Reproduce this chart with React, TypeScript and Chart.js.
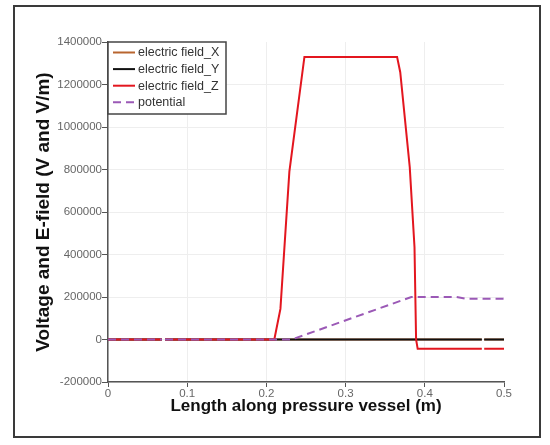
import { useEffect, useRef } from "react";
import { Chart, registerables } from "chart.js";

Chart.register(...registerables);

// ---- data ----
const seriesNames = ["electric field_X", "electric field_Y", "electric field_Z", "potential"];

// electric field X and Y: zero along the whole vessel (small gaps in the data near 0.07 and 0.473)
const fieldXPos = [0, 0.068, 0.07, 0.072, 0.21, 0.3, 0.4, 0.472, 0.473, 0.475, 0.5];
const fieldXVal = [0, 0, null, 0, 0, 0, 0, 0, null, 0, 0];
const fieldYPos = [0, 0.068, 0.07, 0.072, 0.21, 0.3, 0.4, 0.472, 0.473, 0.475, 0.5];
const fieldYVal = [0, 0, null, 0, 0, 0, 0, 0, null, 0, 0];

// electric field Z
const fieldZPos = [0, 0.068, 0.07, 0.072, 0.21, 0.2177, 0.229, 0.248, 0.365, 0.369, 0.381, 0.387, 0.389, 0.391, 0.472, 0.473, 0.475, 0.5];
const fieldZVal = [0, 0, null, 0, 0, 144000, 790000, 1330000, 1330000, 1258000, 811000, 434000, 0, -44000, -44000, null, -44000, -44000];

// potential
const potentialPos = [0, 0.068, 0.07, 0.072, 0.232, 0.383, 0.44, 0.4525, 0.5];
const potentialVal = [0, 0, null, 0, 0, 200000, 200000, 192000, 192000];

const xTicks = [0, 0.1, 0.2, 0.3, 0.4, 0.5];
const yTicks = [-200000, 0, 200000, 400000, 600000, 800000, 1000000, 1200000, 1400000];

const colors = ["#b8652f", "#111111", "#e3161f", "#9b59b6"];
// drawing order: higher number is drawn first (underneath)
const drawOrder = [4, 3, 2, 1];

const toPoints = (xs: number[], ys: (number | null)[]) => xs.map((x, i) => ({ x, y: ys[i] }));

const FONT = "'Liberation Sans', Arial, sans-serif";

const framePlugin = {
  id: "frame",
  beforeDraw(chart: any) {
    const ctx = chart.ctx;
    ctx.save();
    ctx.fillStyle = "#ffffff";
    ctx.fillRect(0, 0, chart.width, chart.height);
    ctx.strokeStyle = "#3a3a3a";
    ctx.lineWidth = 2;
    ctx.strokeRect(14, 6, 526, 431);
    ctx.restore();
  },
};

const boxLegendPlugin = {
  id: "boxLegend",
  afterDraw(chart: any) {
    const ctx = chart.ctx;
    const area = chart.chartArea;
    const left = area.left;
    const top = area.top;
    const w = 118;
    const h = 72;
    ctx.save();
    ctx.fillStyle = "#ffffff";
    ctx.fillRect(left, top, w, h);
    ctx.strokeStyle = "#444";
    ctx.lineWidth = 1.5;
    ctx.strokeRect(left, top, w, h);
    ctx.font = `12.5px ${FONT}`;
    ctx.textBaseline = "middle";
    ctx.textAlign = "left";
    chart.data.datasets.forEach((ds: any, i: number) => {
      const y = top + 10.5 + i * 16.6;
      ctx.strokeStyle = ds.borderColor;
      ctx.lineWidth = 2;
      ctx.setLineDash(ds.borderDash || []);
      ctx.beginPath();
      ctx.moveTo(left + 5, y);
      ctx.lineTo(left + 27, y);
      ctx.stroke();
      ctx.setLineDash([]);
      ctx.fillStyle = "#333";
      ctx.fillText(ds.label, left + 30, y + 0.5);
    });
    ctx.restore();
  },
};

export default function App() {
  const ref = useRef<HTMLCanvasElement | null>(null);

  useEffect(() => {
    document.body.style.margin = "0";
    if (!ref.current) return;
    const data = {
      datasets: [
        { label: seriesNames[0], data: toPoints(fieldXPos, fieldXVal), borderColor: colors[0], order: drawOrder[0] },
        { label: seriesNames[1], data: toPoints(fieldYPos, fieldYVal), borderColor: colors[1], order: drawOrder[1] },
        { label: seriesNames[2], data: toPoints(fieldZPos, fieldZVal), borderColor: colors[2], order: drawOrder[2] },
        { label: seriesNames[3], data: toPoints(potentialPos, potentialVal), borderColor: colors[3], borderDash: [8, 5], order: drawOrder[3] },
      ].map((d) => ({ ...d, borderWidth: 2, pointRadius: 0, fill: false, tension: 0, spanGaps: false })),
    };
    const chart = new Chart(ref.current, {
      type: "line",
      data: data as any,
      plugins: [framePlugin, boxLegendPlugin],
      options: {
        animation: false,
        responsive: false,
        layout: { padding: { left: 32, top: 42, right: 46, bottom: 28 } },
        plugins: { legend: { display: false }, tooltip: { enabled: false } },
        scales: {
          x: {
            type: "linear",
            min: xTicks[0],
            max: xTicks[xTicks.length - 1],
            afterFit: (s: any) => { s.height = 35; },
            afterBuildTicks: (s: any) => { s.ticks = xTicks.map((v) => ({ value: v })); },
            ticks: {
              callback: (v: any) => String(Number(v)),
              font: { family: FONT, size: 11.5 },
              color: "#666",
              padding: 0,
              maxRotation: 0,
            },
            grid: {
              color: (c: any) => (c.tick && c.tick.value === 0.5 ? "rgba(0,0,0,0)" : "#eeeeee"),
              tickColor: "#555",
              tickLength: 5,
              lineWidth: 1,
            },
            border: { color: "#555", width: 1.5 },
            title: {
              display: true,
              text: "Length along pressure vessel (m)",
              font: { family: FONT, size: 17, weight: "bold" },
              color: "#111",
              padding: 0,
            },
          },
          y: {
            type: "linear",
            min: yTicks[0],
            max: yTicks[yTicks.length - 1],
            afterFit: (s: any) => { s.width = 76; },
            afterBuildTicks: (s: any) => { s.ticks = yTicks.map((v) => ({ value: v })); },
            ticks: {
              callback: (v: any) => String(v),
              font: { family: FONT, size: 11.5 },
              color: "#666",
              padding: 0,
            },
            grid: {
              color: (c: any) => (c.tick && c.tick.value === 1400000 ? "rgba(0,0,0,0)" : "#eeeeee"),
              tickColor: "#555",
              tickLength: 6,
              lineWidth: 1,
            },
            border: { color: "#555", width: 1.5 },
            title: {
              display: true,
              text: "Voltage and E-field (V and V/m)",
              font: { family: FONT, size: 19, weight: "bold" },
              color: "#111",
              padding: 0,
            },
          },
        },
      } as any,
    });
    return () => chart.destroy();
  }, []);

  return <canvas ref={ref} width={550} height={445} style={{ display: "block" }} />;
}
